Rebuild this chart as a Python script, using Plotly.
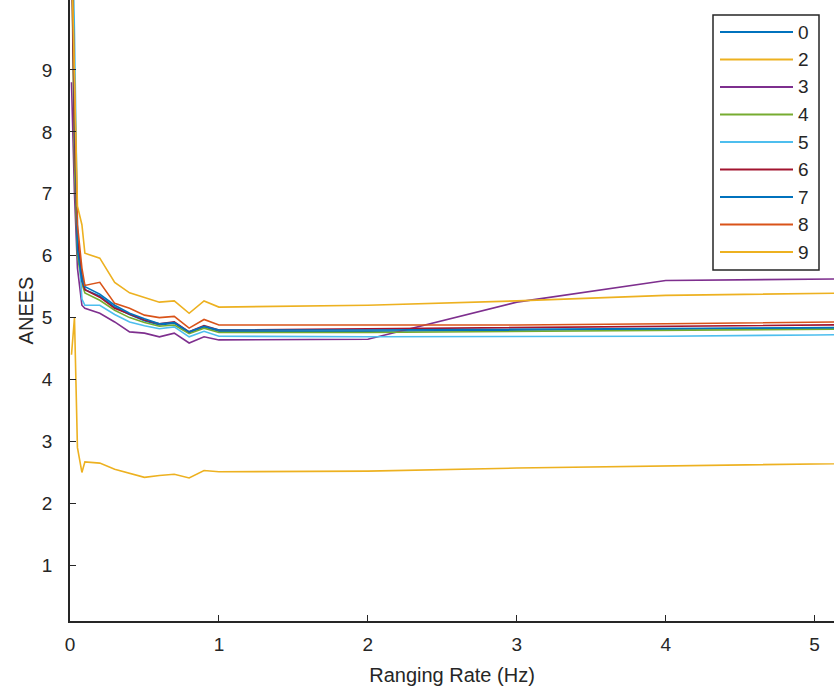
import plotly.graph_objects as go

X = [0.01, 0.03, 0.05, 0.08, 0.1, 0.2, 0.3, 0.4, 0.5, 0.6, 0.7, 0.8, 0.9, 1, 2, 3, 4, 5, 6]

labels = ["0", "2", "3", "4", "5", "6", "7", "8", "9"]
s0 = [12, 8.0, 6.3, 5.7, 5.45, 5.35, 5.17, 5.05, 4.95, 4.88, 4.91, 4.75, 4.85, 4.78, 4.78, 4.8, 4.82, 4.84, 4.85]
s2 = [4.4, 5.0, 2.9, 2.5, 2.67, 2.65, 2.55, 2.49, 2.42, 2.45, 2.47, 2.41, 2.53, 2.51, 2.52, 2.57, 2.61, 2.65, 2.67]
s3 = [8.8, 7.0, 5.8, 5.2, 5.15, 5.07, 4.93, 4.77, 4.75, 4.69, 4.75, 4.59, 4.69, 4.64, 4.65, 5.25, 5.6, 5.63, 5.64]
s4 = [11, 7.5, 6.0, 5.55, 5.4, 5.28, 5.12, 5.0, 4.92, 4.86, 4.88, 4.74, 4.83, 4.76, 4.76, 4.78, 4.8, 4.82, 4.83]
s5 = [12, 9.6, 6.5, 5.3, 5.2, 5.2, 5.05, 4.93, 4.87, 4.82, 4.85, 4.69, 4.78, 4.7, 4.69, 4.69, 4.7, 4.72, 4.74]
s6 = [11, 8.0, 6.3, 5.6, 5.45, 5.33, 5.15, 5.05, 4.96, 4.9, 4.93, 4.77, 4.87, 4.8, 4.82, 4.84, 4.86, 4.88, 4.9]
s7 = [12, 8.5, 6.1, 5.6, 5.5, 5.38, 5.2, 5.07, 4.98, 4.9, 4.92, 4.77, 4.86, 4.8, 4.8, 4.81, 4.82, 4.84, 4.85]
s8 = [11, 8.5, 6.5, 5.8, 5.52, 5.57, 5.23, 5.15, 5.04, 5.0, 5.02, 4.83, 4.97, 4.88, 4.88, 4.88, 4.9, 4.93, 4.95]
s9 = [11, 9.0, 6.8, 6.5, 6.04, 5.96, 5.57, 5.40, 5.33, 5.25, 5.27, 5.07, 5.27, 5.17, 5.2, 5.27, 5.36, 5.4, 5.42]
series = [s0, s2, s3, s4, s5, s6, s7, s8, s9]
colors = ["#0072BD", "#EDB120", "#7E2F8E", "#77AC30", "#4DBEEE", "#A2142F", "#0072BD", "#D95319", "#EDB120"]

W, H = 834, 693
ML, MR, MT, MB = 70, 0, 0, 72
PW, PH = W - ML - MR, H - MT - MB


def px(xp):
    return (xp - ML) / PW


def py(yp):
    return 1 - (yp - MT) / PH


FONT = "Liberation Sans, Arial, Helvetica, sans-serif"
DARK = "#262626"

fig = go.Figure()
for lab, ys, c in zip(labels, series, colors):
    fig.add_trace(go.Scatter(x=X, y=ys, mode="lines", name=lab,
                             line=dict(color=c, width=1.6), showlegend=False))

# Legend drawn MATLAB-style (long line samples)
shapes = [dict(type="rect", xref="paper", yref="paper",
               x0=px(713), x1=px(819), y0=py(270), y1=py(15),
               line=dict(color=DARK, width=1.5), fillcolor="white", layer="above")]
annotations = []
row_y0, row_dy = 32, 27.5
for i, (lab, c) in enumerate(zip(labels, colors)):
    yy = row_y0 + i * row_dy
    shapes.append(dict(type="line", xref="paper", yref="paper",
                       x0=px(720), x1=px(793), y0=py(yy), y1=py(yy),
                       line=dict(color=c, width=1.8), layer="above"))
    annotations.append(dict(xref="paper", yref="paper", x=px(796), y=py(yy),
                            text=lab, showarrow=False, xanchor="left", yanchor="middle",
                            font=dict(family=FONT, size=19, color=DARK)))

fig.update_layout(
    width=W, height=H,
    margin=dict(l=ML, r=MR, t=MT, b=MB),
    paper_bgcolor="white", plot_bgcolor="white",
    font=dict(family=FONT, size=19, color=DARK),
    showlegend=False,
    shapes=shapes, annotations=annotations,
)
fig.update_xaxes(range=[0, 5.13], tickvals=[0, 1, 2, 3, 4, 5], ticks="inside", ticklen=6,
                 tickcolor=DARK, showline=True, linecolor=DARK, linewidth=1.5,
                 showgrid=False, zeroline=False, ticklabelstandoff=5,
                 title=dict(text="Ranging Rate (Hz)", font=dict(size=20), standoff=14))
fig.update_yaxes(range=[0.1, 10.13], tickvals=[1, 2, 3, 4, 5, 6, 7, 8, 9], ticks="inside", ticklen=6,
                 tickcolor=DARK, showline=True, linecolor=DARK, linewidth=1.5,
                 showgrid=False, zeroline=False, ticklabelstandoff=12,
                 title=dict(text="ANEES", font=dict(size=20), standoff=3))

fig.write_html("out.html")
